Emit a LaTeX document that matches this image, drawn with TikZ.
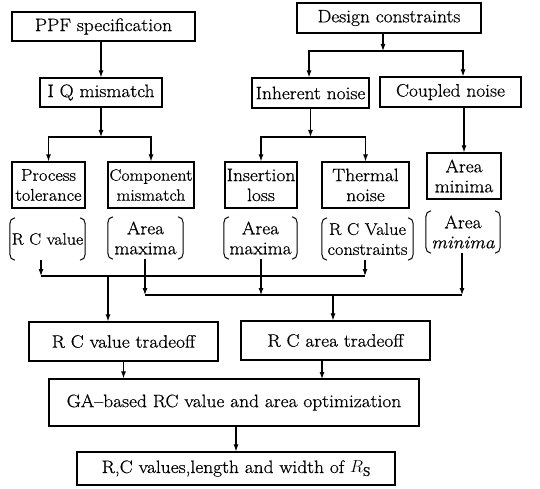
\documentclass[tikz,border=0pt]{standalone}
\usepackage{amsmath}
\usepackage{fontspec}
\setmainfont{Latin Modern Roman}[FakeBold=0.6,FakeStretch=1.08]
\usetikzlibrary{arrows.meta}

\tikzset{
  blk/.style={draw, line width=1.2pt, inner sep=0pt, align=center},
  brk/.style={inner sep=0pt, align=center, minimum height=42},
  fl/.style={line width=1.1pt},
  ar/.style={fl, -{Latex[length=7pt,width=5pt]}},
}

\begin{document}
\begin{tikzpicture}[x=1pt,y=-1pt,font=\fontsize{18}{20}\selectfont]
    \useasboundingbox (0,0) rectangle (540,489);
    % top
    \node[blk, minimum width=183, minimum height=29] (ppf) at (103.5,26.5) {PPF specification};
    \node[blk, minimum width=184, minimum height=30] (dc) at (389,18) {Design constraints};
    % second row
    \node[blk, minimum width=122, minimum height=29] (iq) at (101,92.5) {I Q mismatch};
    \node[blk, minimum width=117, minimum height=30] (inh) at (310.5,93) {Inherent noise};
    \node[blk, minimum width=141, minimum height=30] (cpl) at (450.5,92) {Coupled noise};
    % third row
    \node[blk, minimum width=73, minimum height=46, font=\fontsize{17}{20}\selectfont] (proc) at (48.5,185) {Process\\tolerance};
    \node[blk, minimum width=86, minimum height=46, font=\fontsize{16.5}{20}\selectfont] (comp) at (151,185) {Component\\mismatch};
    \node[blk, minimum width=72, minimum height=46] (ins) at (261,185) {Insertion\\loss};
    \node[blk, minimum width=87, minimum height=46] (thm) at (365.5,185) {Thermal\\noise};
    \node[blk, minimum width=74, minimum height=46] (amin) at (464,176) {Area\\minima};
    % brackets
    \node[brk, minimum width=75, font=\fontsize{16.5}{20}\selectfont] (rcv) at (47.5,239) {R C value};
    \node[brk, minimum width=75] (amax1) at (145.5,238) {Area\\maxima};
    \node[brk, minimum width=73] (amax2) at (260.5,238) {Area\\maxima};
    \node[brk, minimum width=91, font=\fontsize{17}{20}\selectfont] (rcvc) at (367.5,239) {R C Value\\constraints};
    \node[brk, minimum width=74] (amin2) at (463,232) {Area\\\textit{minima}};
    \foreach \n in {rcv,amax1,amax2,rcvc,amin2}{
        \draw[fl, line width=1pt] ([xshift=5pt]\n.north west) to[out=180,in=90] ([yshift=-6pt]\n.north west)
            -- ([yshift=6pt]\n.south west) to[out=-90,in=180] ([xshift=5pt]\n.south west);
        \draw[fl, line width=1pt] ([xshift=-5pt]\n.north east) to[out=0,in=90] ([yshift=-6pt]\n.north east)
            -- ([yshift=6pt]\n.south east) to[out=-90,in=0] ([xshift=-5pt]\n.south east);
    }
    % tradeoffs
    \node[blk, minimum width=189, minimum height=39] (rcvt) at (123.5,341.5) {R C value tradeoff};
    \node[blk, minimum width=189, minimum height=39] (rcat) at (335.5,340.5) {R C area tradeoff};
    \node[blk, minimum width=370, minimum height=47] (ga) at (234,402.5) {GA--based RC value and area optimization};
    \node[blk, minimum width=318, minimum height=33] (res) at (236,468.5) {R,C values,length and width of $R_{\mathrm{S}}$};

    % PPF -> IQ
    \draw[ar] (iq.north |- ppf.south) -- (iq.north);
    % design constraints split
    \coordinate (dcj) at (383,51);
    \coordinate (dcl) at (309,51);
    \coordinate (dcr) at (463,51);
    \draw[ar] (dcj |- dc.south) -- (dcj);
    \draw[ar] (dcj) -- (dcl) -- (dcl |- inh.north);
    \draw[ar] (dcj) -- (dcr) -- (dcr |- cpl.north);
    % IQ split
    \coordinate (iqj) at (101,137);
    \draw[ar] (iq.south) -- (iqj);
    \draw[ar] (iqj) -- (iqj -| proc) -- (proc.north);
    \draw[ar] (iqj) -- (iqj -| comp) -- (comp.north);
    % inherent split
    \coordinate (inj) at (310.5,137);
    \draw[ar] (inh.south) -- (inj);
    \draw[ar] (inj) -- (inj -| ins) -- (ins.north);
    \draw[ar] (inj) -- (inj -| thm) -- (thm.north);
    % coupled
    \draw[ar] (amin.north |- cpl.south) -- (amin.north);

    % first bus
    \coordinate (b1l) at (41,276);
    \coordinate (b1r) at (365,276);
    \coordinate (b1m) at (108,276);
    \draw[ar] (b1l |- rcv.south) -- (b1l);
    \draw[ar] (b1r |- rcvc.south) -- (b1r);
    \draw[fl] (b1l) -- (b1r);
    \draw[ar] (b1m) -- (b1m |- rcvt.north);
    % second bus
    \coordinate (b2l) at (145,295);
    \coordinate (b2c) at (261,295);
    \coordinate (b2r) at (462,295);
    \coordinate (b2m) at (333,295);
    \draw[ar] (b2l |- amax1.south) -- (b2l);
    \draw[ar] (b2c |- amax2.south) -- (b2c);
    \draw[ar] (b2r |- amin2.south) -- (b2r);
    \draw[fl] (b2l) -- (b2r);
    \draw[ar] (b2m) -- (b2m |- rcat.north);

    % to GA
    \coordinate (gar) at (322,379);
    \draw[ar] (rcvt.south) -- (rcvt.south |- ga.north);
    \draw[ar] (gar |- rcat.south) -- (gar);
    \draw[ar] (res.north |- ga.south) -- (res.north);
\end{tikzpicture}
\end{document}
